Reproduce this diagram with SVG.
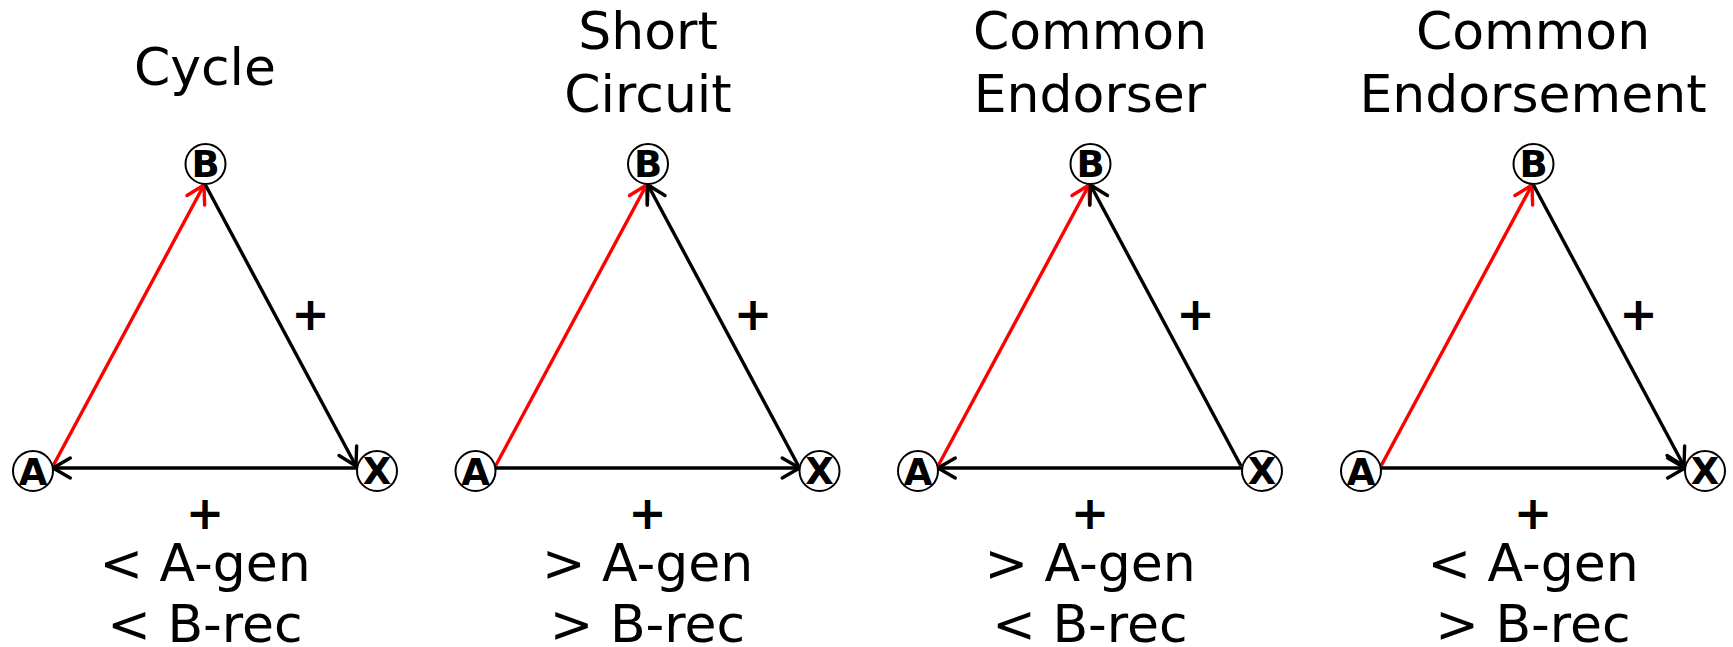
<svg xmlns="http://www.w3.org/2000/svg" width="1733" height="647" viewBox="0 0 1733 647">
<style>
.title{font-family:"DejaVu Sans",sans-serif;font-size:52px;fill:#000;text-anchor:middle}
.cond{font-family:"DejaVu Sans",sans-serif;font-size:52px;fill:#000;text-anchor:middle}
.plus{font-family:"DejaVu Sans",sans-serif;font-weight:bold;font-size:46px;fill:#000;text-anchor:middle}
.node circle{fill:#fff;stroke:#000;stroke-width:2}
.node text{font-family:"DejaVu Sans",sans-serif;font-weight:bold;font-size:37px;fill:#000;text-anchor:middle}
.blk{stroke:#000;stroke-width:3.4;fill:none;marker-end:url(#ahk)}
.red{stroke:#f00;stroke-width:3.4;fill:none;marker-end:url(#ahr)}
</style>
<defs>
<marker id="ahk" markerUnits="userSpaceOnUse" markerWidth="30" markerHeight="30" viewBox="-25 -15 30 30" refX="0" refY="0" orient="auto" overflow="visible"><path d="M-17.3,-10 L0,0 L-17.3,10" fill="none" stroke="#000" stroke-width="3.4" stroke-linecap="round" stroke-linejoin="round"/></marker>
<marker id="ahr" markerUnits="userSpaceOnUse" markerWidth="30" markerHeight="30" viewBox="-25 -15 30 30" refX="0" refY="0" orient="auto" overflow="visible"><path d="M-17.3,-10 L0,0 L-17.3,10" fill="none" stroke="#f00" stroke-width="3.4" stroke-linecap="round" stroke-linejoin="round"/></marker>
</defs>
<rect width="1733" height="647" fill="#fff"/>
<g id="connectors">
<line class="red" x1="53" y1="466" x2="204" y2="185"/>
<line class="blk" x1="205.5" y1="185" x2="356" y2="466"/>
<line class="blk" x1="357" y1="468" x2="53" y2="468"/>
<line class="red" x1="495.5" y1="466" x2="646.5" y2="185"/>
<line class="blk" x1="798.5" y1="466" x2="648" y2="185"/>
<line class="blk" x1="495.5" y1="468" x2="799.5" y2="468"/>
<line class="red" x1="938" y1="466" x2="1089" y2="185"/>
<line class="blk" x1="1241" y1="466" x2="1090.5" y2="185"/>
<line class="blk" x1="1242" y1="468" x2="938" y2="468"/>
<line class="red" x1="1381" y1="466" x2="1532" y2="185"/>
<line class="blk" x1="1533.5" y1="185" x2="1684" y2="466"/>
<line class="blk" x1="1381" y1="468" x2="1685" y2="468"/>
</g>
<g id="labels">
<text class="title" x="205" y="85">Cycle</text>
<text class="title" x="648" y="49">Short</text>
<text class="title" x="648" y="112">Circuit</text>
<text class="title" x="1090" y="49">Common</text>
<text class="title" x="1090" y="112">Endorser</text>
<text class="title" x="1533" y="49">Common</text>
<text class="title" x="1533" y="112">Endorsement</text>
<text class="plus" x="310.5" y="330">+</text>
<text class="plus" x="205" y="529">+</text>
<text class="plus" x="753" y="330">+</text>
<text class="plus" x="647.5" y="529">+</text>
<text class="plus" x="1195.5" y="330">+</text>
<text class="plus" x="1090" y="529">+</text>
<text class="plus" x="1638.5" y="330">+</text>
<text class="plus" x="1533" y="529">+</text>
<text class="cond" x="205" y="581">&lt; A-gen</text>
<text class="cond" x="205" y="642">&lt; B-rec</text>
<text class="cond" x="647.5" y="581">&gt; A-gen</text>
<text class="cond" x="647.5" y="642">&gt; B-rec</text>
<text class="cond" x="1090" y="581">&gt; A-gen</text>
<text class="cond" x="1090" y="642">&lt; B-rec</text>
<text class="cond" x="1533" y="581">&lt; A-gen</text>
<text class="cond" x="1533" y="642">&gt; B-rec</text>
</g>
<g id="p1-A" class="node"><circle cx="33" cy="471" r="20"/><text x="33" y="485">A</text></g>
<g id="p1-B" class="node"><circle cx="205.5" cy="164" r="20"/><text x="205.5" y="177">B</text></g>
<g id="p1-X" class="node"><circle cx="377" cy="471" r="20"/><text x="377" y="484">X</text></g>
<g id="p2-A" class="node"><circle cx="475.5" cy="471" r="20"/><text x="475.5" y="485">A</text></g>
<g id="p2-B" class="node"><circle cx="648" cy="164" r="20"/><text x="648" y="177">B</text></g>
<g id="p2-X" class="node"><circle cx="819.5" cy="471" r="20"/><text x="819.5" y="484">X</text></g>
<g id="p3-A" class="node"><circle cx="918" cy="471" r="20"/><text x="918" y="485">A</text></g>
<g id="p3-B" class="node"><circle cx="1090.5" cy="164" r="20"/><text x="1090.5" y="177">B</text></g>
<g id="p3-X" class="node"><circle cx="1262" cy="471" r="20"/><text x="1262" y="484">X</text></g>
<g id="p4-A" class="node"><circle cx="1361" cy="471" r="20"/><text x="1361" y="485">A</text></g>
<g id="p4-B" class="node"><circle cx="1533.5" cy="164" r="20"/><text x="1533.5" y="177">B</text></g>
<g id="p4-X" class="node"><circle cx="1705" cy="471" r="20"/><text x="1705" y="484">X</text></g>
</svg>
